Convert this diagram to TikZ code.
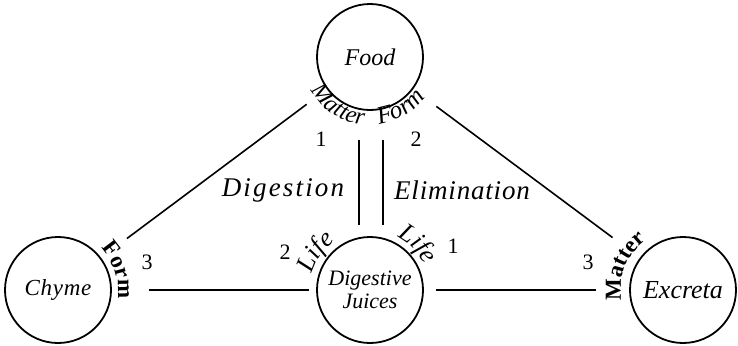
\documentclass[tikz,border=0pt]{standalone}
\usepackage{fontspec}
\setmainfont{Liberation Serif}
\usetikzlibrary{calc,decorations.text}
\begin{document}
\begin{tikzpicture}[x=0.5pt,y=0.5pt,
  bubble/.style={circle,draw,line width=0.9pt,minimum size=53pt,inner sep=0pt,align=center},
  link/.style={line width=0.8pt},
  num/.style={font=\fontsize{11}{13}\selectfont},
  big/.style={font=\fontsize{13.5}{15}\selectfont\itshape},
  arctext/.style={decorate,decoration={text along path,text align=center,text={#1}}}
]
\useasboundingbox (0,0) rectangle (738,345);
% circles
\node[bubble,font=\fontsize{12}{14}\selectfont\itshape] (food) at (370,288) {Food};
\node[bubble,font=\fontsize{11.5}{13}\selectfont\itshape\addfontfeature{LetterSpace=3}] (chyme) at (58,55) {Chyme};
\node[bubble,font=\fontsize{11}{11.5}\selectfont\itshape] (juices) at (370,55) {Digestive\\Juices};
\node[bubble,font=\fontsize{13}{15}\selectfont\itshape] (excreta) at (683,55) {Excreta};
% connectors
\draw[link] ($(food)!0.203!(chyme)$) -- ($(chyme)!0.221!(food)$);
\draw[link] ($(food)!0.212!(excreta)$) -- ($(excreta)!0.225!(food)$);
\draw[link] ($(food)+(-11,-83)$) -- ($(juices)+(-11,65)$);
\draw[link] ($(food)+(13,-83)$) -- ($(juices)+(13,65)$);
\draw[link] ($(chyme.east)+(37,0)$) -- ($(juices.west)+(-7,0)$);
\draw[link] ($(juices.east)+(12,0)$) -- ($(excreta.west)+(-33,0)$);
% numbers
\node[num] (n1) at (321,206) {1};
\node[num] (n2) at (416,206) {2};
\node[num] (n3) at (285,93) {2};
\node[num] (n4) at (453,99) {1};
\node[num] (n5) at (147,83) {3};
\node[num] (n6) at (588,83) {3};
% process labels
\node[big,font=\fontsize{13.5}{15}\selectfont\itshape\addfontfeature{LetterSpace=8}] (dig) at (283,155) {Digestion};
\node[big,font=\fontsize{13.5}{15}\selectfont\itshape\addfontfeature{LetterSpace=3}] (elim) at (462,155) {Elimination};
% curved labels
\path[arctext={|\fontsize{12}{14}\selectfont\itshape|Matter}] ($(food)+(202:34pt)$) arc[start angle=202,end angle=272,radius=34pt];
\path[arctext={|\fontsize{12.5}{14}\selectfont\itshape|Form}] ($(food)+(266:34pt)$) arc[start angle=266,end angle=336,radius=34pt];
\path[arctext={|\fontsize{13}{15}\selectfont\itshape|Life}] ($(juices)+(185:30pt)$) arc[start angle=185,end angle=105,radius=30pt];
\path[arctext={|\fontsize{13}{15}\selectfont\itshape|Life}] ($(juices)+(84:30pt)$) arc[start angle=84,end angle=4,radius=30pt];
\path[arctext={|\fontsize{11.5}{13}\selectfont\bfseries|Form}] ($(chyme)+(60:30pt)$) arc[start angle=60,end angle=-24,radius=30pt];
\path[arctext={|\fontsize{11.5}{13}\selectfont\bfseries|Matter}] ($(excreta)+(200:31pt)$) arc[start angle=200,end angle=116,radius=31pt];
\end{tikzpicture}
\end{document}
